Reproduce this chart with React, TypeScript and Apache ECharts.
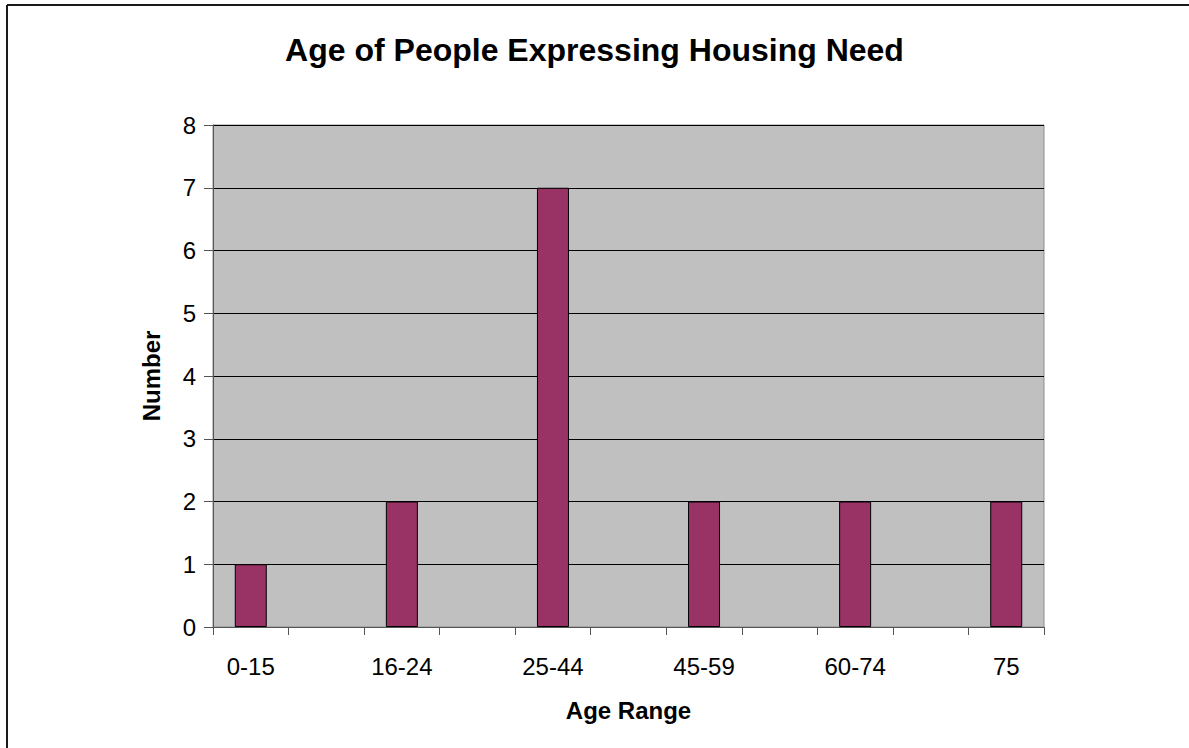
import React, { useEffect, useRef } from "react";
import * as echarts from "echarts";

const categories = ["0-15", "", "16-24", "", "25-44", "", "45-59", "", "60-74", "", "75"];
const counts: (number | null)[] = [1, null, 2, null, 7, null, 2, null, 2, null, 2];
const yTicks = [0, 1, 2, 3, 4, 5, 6, 7, 8];

const FONT = "'Liberation Sans', Arial, sans-serif";

export default function App() {
  const ref = useRef<HTMLDivElement>(null);
  useEffect(() => {
    const chart = echarts.init(ref.current!, null, { renderer: "svg" });
    chart.setOption({
      animation: false,
      backgroundColor: "#ffffff",
      title: {
        text: "Age of People Expressing Housing Need",
        left: "center",
        top: 29,
        textStyle: { fontFamily: FONT, fontSize: 32, fontWeight: "bold", color: "#000" },
      },
      graphic: [
        { type: "line", shape: { x1: 7, y1: 5, x2: 1189, y2: 5 }, style: { stroke: "#1a1a1a", lineWidth: 2 } },
        { type: "line", shape: { x1: 7, y1: 5, x2: 7, y2: 748 }, style: { stroke: "#1a1a1a", lineWidth: 2 } },
      ],
      grid: {
        left: 213,
        top: 125,
        right: 145,
        bottom: 121,
        show: true,
        backgroundColor: "#c0c0c0",
        borderColor: "#8c8c8c",
        borderWidth: 1,
      },
      xAxis: {
        type: "category",
        data: categories,
        boundaryGap: true,
        name: "Age Range",
        nameLocation: "middle",
        nameGap: 71,
        nameTextStyle: { fontFamily: FONT, fontSize: 24, fontWeight: "bold", color: "#000" },
        axisLine: { show: true, lineStyle: { color: "#555", width: 1 } },
        axisTick: { show: true, interval: 0, length: 8, lineStyle: { color: "#555" } },
        axisLabel: { interval: 0, margin: 27, fontFamily: FONT, fontSize: 24, color: "#000" },
        splitLine: { show: false },
      },
      yAxis: {
        type: "value",
        min: yTicks[0],
        max: yTicks[yTicks.length - 1],
        interval: 1,
        name: "Number",
        nameLocation: "middle",
        nameGap: 50,
        nameRotate: 90,
        nameTextStyle: { fontFamily: FONT, fontSize: 24, fontWeight: "bold", color: "#000" },
        axisLine: { show: true, lineStyle: { color: "#555", width: 1 } },
        axisTick: { show: true, length: 9, lineStyle: { color: "#555" } },
        axisLabel: { margin: 17, fontFamily: FONT, fontSize: 24, color: "#000" },
        splitLine: { show: true, lineStyle: { color: "#000", width: 1 } },
      },
      series: [
        {
          type: "bar",
          data: counts,
          barWidth: 32,
          itemStyle: { color: "#993366", borderColor: "#000", borderWidth: 1 },
        },
      ],
    });
    return () => chart.dispose();
  }, []);
  return (
    <div
      ref={ref}
      style={{ position: "fixed", left: 0, top: 0, width: 1189, height: 748 }}
    />
  );
}
